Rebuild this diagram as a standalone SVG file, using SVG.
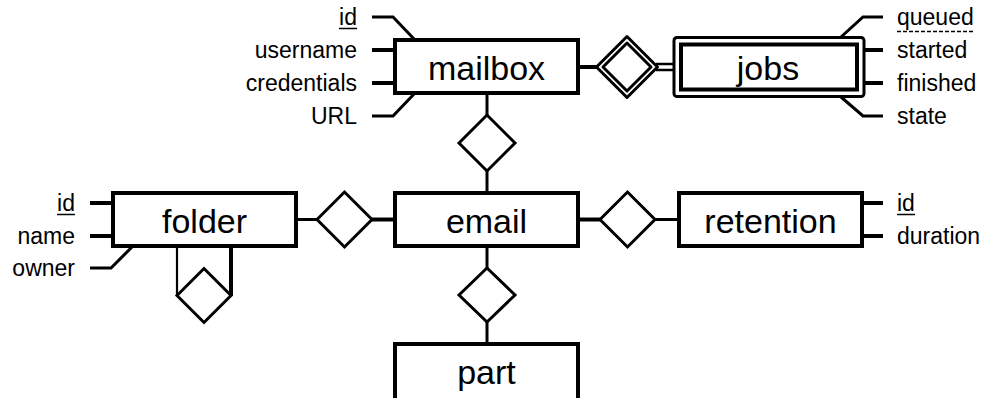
<svg xmlns="http://www.w3.org/2000/svg" width="982" height="398" viewBox="0 0 982 398">
  <style>
    .ent { fill: #fff; stroke: #000; stroke-width: 4; }
    .rel { fill: #fff; stroke: #000; stroke-width: 3; }
    .ln { fill: none; stroke: #000; stroke-width: 3; }
    .lnb { fill: none; stroke: #000; stroke-width: 4; }
    .et { font-family: "Liberation Sans", Arial, sans-serif; font-size: 34px; fill: #000; text-anchor: middle; }
    .at { font-family: "Liberation Sans", Arial, sans-serif; font-size: 23px; fill: #000; }
    .r { text-anchor: end; }
    .ul { stroke: #000; stroke-width: 1.5; }
  </style>
  <rect width="982" height="398" fill="#fff"/>

  <g id="connectors">
    <!-- mailbox attributes -->
    <polyline class="ln" points="372,17 393,17 415,40"/>
    <line class="lnb" x1="372" y1="50" x2="395" y2="50"/>
    <line class="lnb" x1="372" y1="83" x2="395" y2="83"/>
    <polyline class="ln" points="372,116 393,116 415,93"/>
    <!-- jobs attributes -->
    <polyline class="ln" points="883,17 863,17 841,37"/>
    <line class="lnb" x1="862" y1="50" x2="883" y2="50"/>
    <line class="lnb" x1="862" y1="83" x2="883" y2="83"/>
    <polyline class="ln" points="841,97 863,116 883,116"/>
    <!-- folder attributes -->
    <line class="lnb" x1="90" y1="203" x2="113" y2="203"/>
    <line class="lnb" x1="90" y1="236" x2="113" y2="236"/>
    <polyline class="ln" points="90,268 111,268 133,246"/>
    <!-- retention attributes -->
    <line class="lnb" x1="862" y1="203" x2="883" y2="203"/>
    <line class="lnb" x1="862" y1="236" x2="883" y2="236"/>
    <!-- mailbox - jobs -->
    <line class="lnb" x1="578" y1="67" x2="597" y2="67"/>
    <line class="ln" style="stroke-width:2.5" x1="656" y1="64" x2="674" y2="64"/>
    <line class="ln" style="stroke-width:2.5" x1="656" y1="70" x2="674" y2="70"/>
    <!-- mailbox - email -->
    <line class="ln" x1="487" y1="93" x2="487" y2="115"/>
    <line class="ln" x1="487" y1="171" x2="487" y2="193"/>
    <!-- folder - email -->
    <line class="ln" x1="296" y1="219.5" x2="317" y2="219.5"/>
    <line class="lnb" x1="372" y1="219.5" x2="395" y2="219.5"/>
    <!-- email - retention -->
    <line class="lnb" x1="578" y1="219.5" x2="600" y2="219.5"/>
    <line class="ln" x1="655" y1="219.5" x2="679" y2="219.5"/>
    <!-- email - part -->
    <line class="ln" x1="487" y1="246" x2="487" y2="268"/>
    <line class="ln" x1="487" y1="322" x2="487" y2="344"/>
    <!-- folder recursive -->
    <line class="ln" style="stroke-width:2.2" x1="177" y1="246" x2="177" y2="295.5"/>
    <line class="lnb" x1="231" y1="246" x2="231" y2="295.5"/>
  </g>

  <g id="mailbox">
    <rect class="ent" x="395" y="40" width="183" height="53"/>
    <text class="et" x="486.5" y="80">mailbox</text>
    <text class="at r" x="357" y="25">id</text>
    <line class="ul" x1="339" y1="28.5" x2="357" y2="28.5"/>
    <text class="at r" x="357" y="58">username</text>
    <text class="at r" x="357" y="91">credentials</text>
    <text class="at r" x="357" y="124">URL</text>
  </g>

  <g id="mailbox-jobs">
    <polygon class="rel" style="stroke-linejoin:round" points="596.5,67 627,36.5 657.5,67 627,97.5"/>
    <polygon class="rel" style="stroke-linejoin:round" points="603,67 627,43 651,67 627,91"/>
  </g>

  <g id="jobs">
    <rect class="ent" style="stroke-width:3" x="674" y="37.5" width="190" height="59" rx="3"/>
    <rect class="ent" x="681" y="44.5" width="176" height="45"/>
    <text class="et" x="768" y="80">jobs</text>
    <text class="at" x="897" y="25">queued</text>
    <line class="ul" style="stroke-dasharray:4 2" x1="897" y1="31.5" x2="974" y2="31.5"/>
    <text class="at" x="897" y="58">started</text>
    <text class="at" x="897" y="91">finished</text>
    <text class="at" x="897" y="124">state</text>
  </g>

  <g id="mailbox-email">
    <polygon class="rel" points="459,143 487,115 515,143 487,171"/>
  </g>

  <g id="folder">
    <rect class="ent" x="113" y="193" width="183" height="53"/>
    <text class="et" x="204.5" y="233">folder</text>
    <text class="at r" x="75" y="211">id</text>
    <line class="ul" x1="57" y1="214.5" x2="75" y2="214.5"/>
    <text class="at r" x="75" y="244">name</text>
    <text class="at r" x="75" y="276">owner</text>
  </g>

  <g id="folder-parent">
    <polygon class="rel" points="177,295.5 204,268.5 231,295.5 204,322.5"/>
  </g>

  <g id="folder-email">
    <polygon class="rel" points="317,219.5 344.5,192 372,219.5 344.5,247"/>
  </g>

  <g id="email">
    <rect class="ent" x="395" y="193" width="183" height="53"/>
    <text class="et" x="486.5" y="233">email</text>
  </g>

  <g id="email-retention">
    <polygon class="rel" points="600,219.5 627.5,192 655,219.5 627.5,247"/>
  </g>

  <g id="retention">
    <rect class="ent" x="679" y="193" width="183" height="53"/>
    <text class="et" x="770.5" y="233">retention</text>
    <text class="at" x="897" y="211">id</text>
    <line class="ul" x1="897" y1="214.5" x2="915" y2="214.5"/>
    <text class="at" x="897" y="244">duration</text>
  </g>

  <g id="email-part">
    <polygon class="rel" points="459,295 487,268 515,295 487,322"/>
  </g>

  <g id="part">
    <rect class="ent" x="395" y="344" width="183" height="60"/>
    <text class="et" x="486.5" y="384">part</text>
  </g>
</svg>
